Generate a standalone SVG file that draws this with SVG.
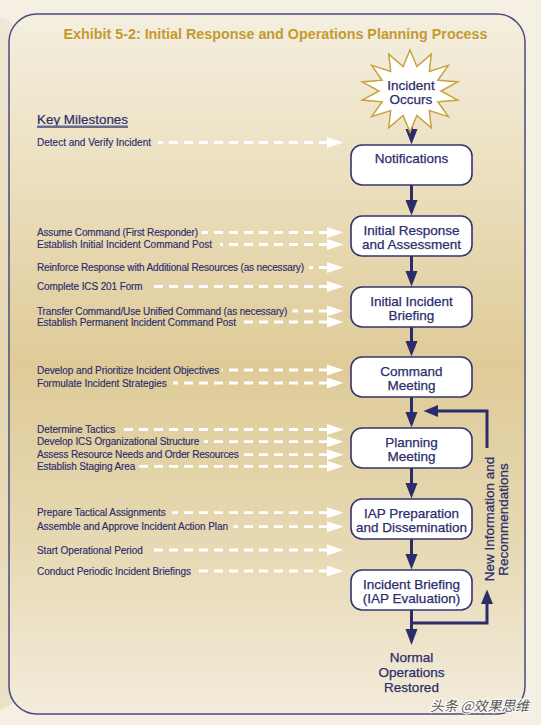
<svg xmlns="http://www.w3.org/2000/svg" width="541" height="725" viewBox="0 0 541 725">
<defs>
<linearGradient id="panelGrad" x1="0" y1="0" x2="0" y2="1">
<stop offset="0" stop-color="#f4efe0"/>
<stop offset="0.22" stop-color="#ece0c0"/>
<stop offset="0.5" stop-color="#dfcb98"/>
<stop offset="0.75" stop-color="#e6d8b2"/>
<stop offset="1" stop-color="#f3ecdb"/>
</linearGradient>
<linearGradient id="stripGrad" x1="0" y1="0" x2="0" y2="1">
<stop offset="0" stop-color="#efe8d5"/>
<stop offset="0.5" stop-color="#e4d6b0"/>
<stop offset="1" stop-color="#ebe1c6"/>
</linearGradient>
</defs>
<style>
.node rect{fill:#ffffff;stroke:#34346f;stroke-width:1.6}
.nt{font-family:"Liberation Sans",Arial,sans-serif;font-size:13.5px;fill:#2b2d6b;text-anchor:middle;stroke:#2b2d6b;stroke-width:0.25}
.ml{font-family:"Liberation Sans",Arial,sans-serif;font-size:10px;fill:#2b2d6b;stroke:#2b2d6b;stroke-width:0.15}
.dash{stroke:#ffffff;stroke-width:2.8;stroke-dasharray:9 6;fill:none}
.wh{fill:#ffffff}
.flow{stroke:#2b2d6b;stroke-width:3;fill:none}
.hd{fill:#2b2d6b}
</style>
<rect x="0" y="0" width="541" height="725" fill="#f5f0e3"/>
<rect x="-40" y="16" width="62" height="695" rx="30" fill="url(#stripGrad)"/>
<rect x="9" y="14" width="516" height="700" rx="28" fill="url(#panelGrad)" stroke="#4a4a80" stroke-width="1.5"/>
<text x="275.5" y="39" font-family="'Liberation Sans',Arial,sans-serif" font-size="14" font-weight="bold" fill="#c49a30" text-anchor="middle" textLength="424" lengthAdjust="spacingAndGlyphs">Exhibit 5-2: Initial Response and Operations Planning Process</text>
<g id="key-milestones">
<text x="37" y="123.5" font-family="'Liberation Sans',Arial,sans-serif" font-size="13.4" fill="#2b2d6b" textLength="91" stroke="#2b2d6b" stroke-width="0.2">Key Milestones</text>
<rect x="37" y="125.5" width="91" height="2.5" fill="#6b6b8e"/>
</g>
<g id="milestones">
<text class="ml" x="37" y="145.5" textLength="114">Detect and Verify Incident</text>
<text class="ml" x="37" y="235.5" textLength="161">Assume Command (First Responder)</text>
<text class="ml" x="37" y="247.5" textLength="175">Establish Initial Incident Command Post</text>
<text class="ml" x="37" y="270.5" textLength="267">Reinforce Response with Additional Resources (as necessary)</text>
<text class="ml" x="37" y="289.5" textLength="105.7">Complete ICS 201 Form</text>
<text class="ml" x="37" y="314.5" textLength="250.3">Transfer Command/Use Unified Command (as necessary)</text>
<text class="ml" x="37" y="325.5" textLength="199">Establish Permanent Incident Command Post</text>
<text class="ml" x="37" y="373.5" textLength="182.3">Develop and Prioritize Incident Objectives</text>
<text class="ml" x="37" y="386.5" textLength="129.7">Formulate Incident Strategies</text>
<text class="ml" x="37" y="433" textLength="78.3">Determine Tactics</text>
<text class="ml" x="37" y="445.2" textLength="162.3">Develop ICS Organizational Structure</text>
<text class="ml" x="37" y="458.2" textLength="201.7">Assess Resource Needs and Order Resources</text>
<text class="ml" x="37" y="469.8" textLength="98.3">Establish Staging Area</text>
<text class="ml" x="37" y="516.2" textLength="128.7">Prepare Tactical Assignments</text>
<text class="ml" x="37" y="530.2" textLength="191">Assemble and Approve Incident Action Plan</text>
<text class="ml" x="37" y="553.5" textLength="105.7">Start Operational Period</text>
<text class="ml" x="37" y="574.5" textLength="154">Conduct Periodic Incident Briefings</text>
</g>
<g id="connectors">
<line class="dash" x1="328" y1="142.5" x2="158" y2="142.5"/><polygon class="wh" points="327,137 343.5,142.5 327,148"/>
<line class="dash" x1="328" y1="232.5" x2="201.7" y2="232.5"/><polygon class="wh" points="327,227 343.5,232.5 327,238"/>
<line class="dash" x1="328" y1="244.5" x2="220" y2="244.5"/><polygon class="wh" points="327,239 343.5,244.5 327,250"/>
<line class="dash" x1="328" y1="267.5" x2="309" y2="267.5"/><polygon class="wh" points="327,262 343.5,267.5 327,273"/>
<line class="dash" x1="328" y1="286.5" x2="149" y2="286.5"/><polygon class="wh" points="327,281 343.5,286.5 327,292"/>
<line class="dash" x1="328" y1="311" x2="292.7" y2="311"/><polygon class="wh" points="327,305.5 343.5,311 327,316.5"/>
<line class="dash" x1="328" y1="322" x2="241.7" y2="322"/><polygon class="wh" points="327,316.5 343.5,322 327,327.5"/>
<line class="dash" x1="328" y1="370" x2="221.7" y2="370"/><polygon class="wh" points="327,364.5 343.5,370 327,375.5"/>
<line class="dash" x1="328" y1="383" x2="173" y2="383"/><polygon class="wh" points="327,377.5 343.5,383 327,388.5"/>
<line class="dash" x1="328" y1="429.5" x2="121.7" y2="429.5"/><polygon class="wh" points="327,424 343.5,429.5 327,435"/>
<line class="dash" x1="328" y1="441.7" x2="204" y2="441.7"/><polygon class="wh" points="327,436.2 343.5,441.7 327,447.2"/>
<line class="dash" x1="328" y1="454.7" x2="244" y2="454.7"/><polygon class="wh" points="327,449.2 343.5,454.7 327,460.2"/>
<line class="dash" x1="328" y1="466.3" x2="139.3" y2="466.3"/><polygon class="wh" points="327,460.8 343.5,466.3 327,471.8"/>
<line class="dash" x1="328" y1="512.7" x2="172.3" y2="512.7"/><polygon class="wh" points="327,507.2 343.5,512.7 327,518.2"/>
<line class="dash" x1="328" y1="526.7" x2="233.3" y2="526.7"/><polygon class="wh" points="327,521.2 343.5,526.7 327,532.2"/>
<line class="dash" x1="328" y1="550" x2="148.3" y2="550"/><polygon class="wh" points="327,544.5 343.5,550 327,555.5"/>
<line class="dash" x1="328" y1="571" x2="198.3" y2="571"/><polygon class="wh" points="327,565.5 343.5,571 327,576.5"/>

<line class="flow" x1="411.5" y1="112" x2="411.5" y2="131"/><polygon class="hd" points="405.5,129 417.5,129 411.5,144.5"/>
<line class="flow" x1="411.5" y1="185" x2="411.5" y2="202"/><polygon class="hd" points="405.5,200 417.5,200 411.5,215.5"/>
<line class="flow" x1="411.5" y1="256" x2="411.5" y2="273"/><polygon class="hd" points="405.5,271 417.5,271 411.5,286.5"/>
<line class="flow" x1="411.5" y1="327" x2="411.5" y2="343"/><polygon class="hd" points="405.5,341 417.5,341 411.5,356.5"/>
<line class="flow" x1="411.5" y1="397" x2="411.5" y2="414"/><polygon class="hd" points="405.5,412 417.5,412 411.5,427.5"/>
<line class="flow" x1="411.5" y1="468" x2="411.5" y2="485"/><polygon class="hd" points="405.5,483 417.5,483 411.5,498.5"/>
<line class="flow" x1="411.5" y1="539" x2="411.5" y2="556"/><polygon class="hd" points="405.5,554 417.5,554 411.5,569.5"/>
<line class="flow" x1="411.5" y1="610" x2="411.5" y2="631"/><polygon class="hd" points="405.5,629 417.5,629 411.5,645"/>
<polyline class="flow" points="411.5,623 487,623 487,602"/><polygon class="hd" points="481,604 493,604 487,589.5"/>
<polyline class="flow" points="487,448 487,411 436,411"/><polygon class="hd" points="438,405 438,417 423.5,411"/>
</g>
<g id="incident-occurs">
<polygon points="410,50 416.9,66.6 431.3,54.1 429.3,71.5 448.3,65.4 437.9,80.2 457.8,81.9 441,91 457.8,100.1 437.9,101.8 448.3,116.6 429.3,110.5 431.3,127.9 416.9,115.4 410,132 403.1,115.4 388.7,127.9 390.7,110.5 371.7,116.6 382.1,101.8 362.2,100.1 379,91 362.2,81.9 382.1,80.2 371.7,65.4 390.7,71.5 388.7,54.1 403.1,66.6" fill="#ffffff" stroke="#c8a23c" stroke-width="1.5" stroke-linejoin="miter"/>
<text class="nt" x="411" y="89.5">Incident</text>
<text class="nt" x="411" y="104">Occurs</text>
</g>
<g id="notifications" class="node">
<rect x="351" y="145" width="121" height="40" rx="11"/>
<text class="nt" x="411.5" y="163">Notifications</text>
</g>
<g id="initial-response" class="node">
<rect x="351" y="216" width="121" height="40" rx="11"/>
<text class="nt" x="411.5" y="235">Initial Response</text>
<text class="nt" x="411.5" y="248.5">and Assessment</text>
</g>
<g id="initial-briefing" class="node">
<rect x="351" y="287" width="121" height="40" rx="11"/>
<text class="nt" x="411.5" y="306">Initial Incident</text>
<text class="nt" x="411.5" y="319.5">Briefing</text>
</g>
<g id="command-meeting" class="node">
<rect x="351" y="357" width="121" height="40" rx="11"/>
<text class="nt" x="411.5" y="376">Command</text>
<text class="nt" x="411.5" y="389.5">Meeting</text>
</g>
<g id="planning-meeting" class="node">
<rect x="351" y="428" width="121" height="40" rx="11"/>
<text class="nt" x="411.5" y="447">Planning</text>
<text class="nt" x="411.5" y="460.5">Meeting</text>
</g>
<g id="iap-preparation" class="node">
<rect x="351" y="499" width="121" height="40" rx="11"/>
<text class="nt" x="411.5" y="518">IAP Preparation</text>
<text class="nt" x="411.5" y="531.5">and Dissemination</text>
</g>
<g id="incident-briefing" class="node">
<rect x="351" y="570" width="121" height="40" rx="11"/>
<text class="nt" x="411.5" y="589">Incident Briefing</text>
<text class="nt" x="411.5" y="602.5">(IAP Evaluation)</text>
</g>
<g id="normal-operations">
<text class="nt" x="411.5" y="662">Normal</text>
<text class="nt" x="411.5" y="677">Operations</text>
<text class="nt" x="411.5" y="692">Restored</text>
</g>
<g id="feedback-label">
<text class="nt" transform="translate(493.5,519) rotate(-90)" x="0" y="0">New Information and</text>
<text class="nt" transform="translate(507.5,519.5) rotate(-90)" x="0" y="0">Recommendations</text>
</g>
<text x="430" y="711" font-family="'Noto Sans CJK SC',sans-serif" font-size="14" font-style="italic" fill="#5a5a5a" stroke="#ffffff" stroke-width="2" paint-order="stroke" textLength="99">头条 @效果思维</text>
</svg>
